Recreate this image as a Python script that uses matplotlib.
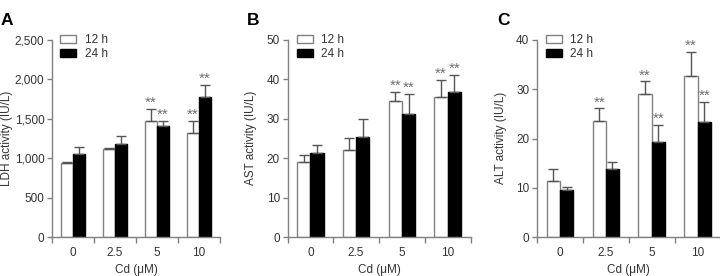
import numpy as np
import matplotlib.pyplot as plt
from matplotlib.patches import Patch

plt.rcParams['font.family'] = ['Liberation Sans', 'DejaVu Sans']

# ===== data =====
doses = ['0', '2.5', '5', '10']

ldh_12 = [937, 1118, 1477, 1321]
ldh_12_err = [21, 17, 152, 152]
ldh_24 = [1051, 1181, 1414, 1776]
ldh_24_err = [92, 106, 63, 156]
ldh_sig_12 = ['', '', '**', '**']
ldh_sig_24 = ['', '', '**', '**']

ast_12 = [19.0, 22.0, 34.4, 35.6]
ast_12_err = [1.7, 3.1, 2.5, 4.2]
ast_24 = [21.4, 25.4, 31.3, 36.9]
ast_24_err = [2.0, 4.6, 5.0, 4.3]
ast_sig_12 = ['', '', '**', '**']
ast_sig_24 = ['', '', '**', '**']

alt_12 = [11.4, 23.5, 29.1, 32.6]
alt_12_err = [2.4, 2.6, 2.5, 5.0]
alt_24 = [9.5, 13.9, 19.3, 23.4]
alt_24_err = [0.6, 1.4, 3.5, 4.0]
alt_sig_12 = ['', '**', '**', '**']
alt_sig_24 = ['', '', '**', '**']

GREY = '#808080'
TXT = '#333333'
FS = 8.5


def draw_panel(ax, v12, e12, v24, e24, s12, s24, ymax, ystep, ylabel_fmt):
    x = np.arange(len(doses))
    w = 0.29
    ax.bar(x - w / 2, v12, w, color='white', edgecolor=GREY, linewidth=1.0,
           yerr=[np.zeros(len(e12)), e12], capsize=3.5,
           error_kw=dict(ecolor='#555555', elinewidth=1.0, capthick=1.0), zorder=2)
    ax.bar(x + w / 2, v24, w, color='black', edgecolor='black', linewidth=1.0,
           yerr=[np.zeros(len(e24)), e24], capsize=3.5,
           error_kw=dict(ecolor='#555555', elinewidth=1.0, capthick=1.0), zorder=2)

    # significance marks
    for xs, vals, errs, sig in [(x - w / 2, v12, e12, s12), (x + w / 2, v24, e24, s24)]:
        for xi, v, e, s in zip(xs, vals, errs, sig):
            if s:
                ax.annotate(s, (xi, v + e), xytext=(0, 1.5), textcoords='offset points',
                            ha='center', va='baseline', fontsize=11, color='#707070')

    ax.set_xlim(-0.5, len(doses) - 0.5)
    ax.set_ylim(0, ymax)
    ax.set_xticks(x)
    ax.set_xticklabels(doses)
    ax.set_xticks(np.arange(len(doses) + 1) - 0.5, minor=True)
    ax.tick_params(axis='x', which='major', length=0, pad=7, labelsize=FS, labelcolor=TXT)
    ax.tick_params(axis='x', which='minor', length=4, width=1, color=GREY, direction='out')
    yt = np.arange(0, ymax + ystep / 2, ystep)
    ax.set_yticks(yt)
    ax.set_yticklabels([ylabel_fmt(v) for v in yt])
    ax.tick_params(axis='y', length=3.5, width=1, color=GREY, labelsize=FS,
                   labelcolor=TXT, pad=2)
    for side in ['top', 'right']:
        ax.spines[side].set_visible(False)
    for side in ['left', 'bottom']:
        ax.spines[side].set_color(GREY)
        ax.spines[side].set_linewidth(1.0)

    handles = [Patch(facecolor='white', edgecolor=GREY, label='12 h'),
               Patch(facecolor='black', edgecolor='black', label='24 h')]
    ax.legend(handles=handles, loc='upper left', bbox_to_anchor=(0.05, 1.03),
              frameon=False, fontsize=FS, handlelength=1.35, handleheight=0.7,
              handletextpad=0.7, labelspacing=0.15, borderaxespad=0, borderpad=0,
              labelcolor=TXT)
    ax.set_xlabel('Cd (\u03bcM)', fontsize=FS, color=TXT, labelpad=4)


fig = plt.figure(figsize=(7.2, 2.76), dpi=100)
bottom = 1 - 237 / 276
height = (237 - 40) / 276
axA = fig.add_axes([52 / 720, bottom, 168 / 720, height])
axB = fig.add_axes([287.5 / 720, bottom, 183 / 720, height])
axC = fig.add_axes([537 / 720, bottom, 183.5 / 720, height])

draw_panel(axA, ldh_12, ldh_12_err, ldh_24, ldh_24_err, ldh_sig_12, ldh_sig_24,
           2500, 500, lambda v: f'{int(v):,}')
draw_panel(axB, ast_12, ast_12_err, ast_24, ast_24_err, ast_sig_12, ast_sig_24,
           50, 10, lambda v: f'{int(v)}')
draw_panel(axC, alt_12, alt_12_err, alt_24, alt_24_err, alt_sig_12, alt_sig_24,
           40, 10, lambda v: f'{int(v)}')

# y labels and panel letters
ymid = 1 - 138 / 276
fig.text(7 / 720, ymid, 'LDH activity (IU/L)', rotation=90, ha='center', va='center',
         fontsize=FS, color=TXT)
fig.text(251 / 720, ymid, 'AST activity (IU/L)', rotation=90, ha='center', va='center',
         fontsize=FS, color=TXT)
fig.text(501 / 720, ymid, 'ALT activity (IU/L)', rotation=90, ha='center', va='center',
         fontsize=FS, color=TXT)

for lbl, xp in [('A', 1 / 720), ('B', 247 / 720), ('C', 497 / 720)]:
    fig.text(xp, 1 - 13 / 276, lbl, ha='left', va='top', fontsize=12.5,
             fontweight='bold', color='black')

fig.savefig('out.png', dpi=100)
